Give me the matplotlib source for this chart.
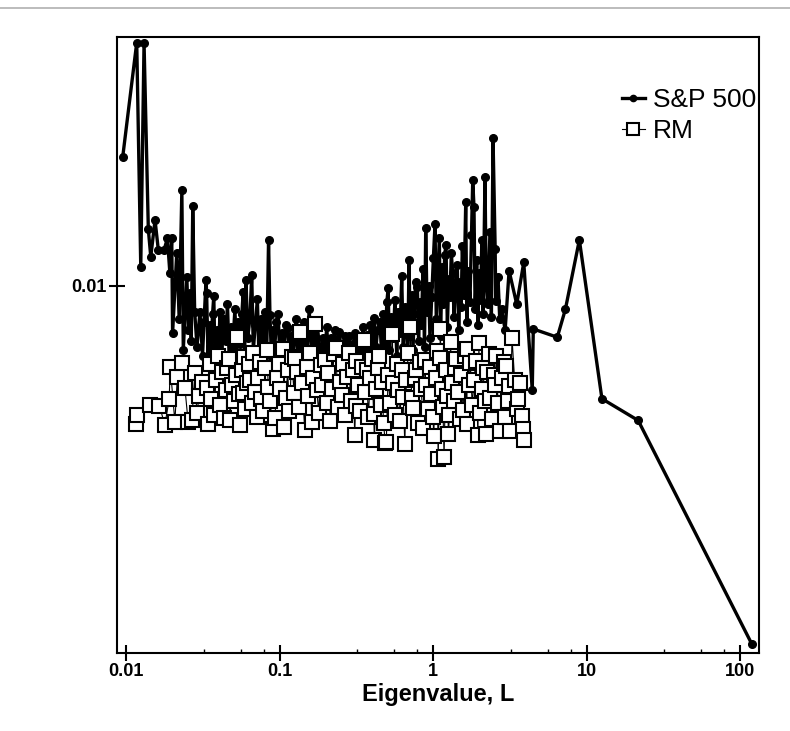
import numpy as np
import matplotlib
matplotlib.use("Agg")
import matplotlib.pyplot as plt
from matplotlib.lines import Line2D
from matplotlib.ticker import FixedLocator, NullLocator

plt.rcParams['font.family'] = ['Liberation Sans', 'DejaVu Sans']

# eigenvalues and inverse participation ratios (IPR in units of 1e-3)
sp_eig = [
    0.00952, 0.01174, 0.01247, 0.0131, 0.01397, 0.01449, 0.01545, 0.01623, 0.01768, 0.0186,
    0.0193, 0.01985, 0.0201, 0.0214, 0.0222, 0.0231, 0.0236, 0.0249, 0.0255, 0.0261,
    0.0266, 0.0272, 0.0280, 0.0290, 0.0303,
    0.0315, 0.0322, 0.0332, 0.0335, 0.0342, 0.0350, 0.0358, 0.0366, 0.0373, 0.0380,
    0.0390, 0.0400, 0.0410, 0.0420, 0.0432, 0.0445, 0.0458, 0.0470, 0.0482, 0.0495,
    0.0512, 0.0525, 0.0540, 0.0555, 0.0568, 0.0580, 0.0592, 0.0605, 0.0620, 0.0640,
    0.0659, 0.0675, 0.0695, 0.0717, 0.0735, 0.0755, 0.0775, 0.0800, 0.0825, 0.0848,
    0.0866, 0.0885, 0.0905, 0.0930, 0.0955, 0.0980, 0.1005, 0.1035, 0.1065, 0.1100,
    0.1130, 0.1160, 0.1195, 0.1235, 0.1280, 0.1320, 0.1360, 0.1400, 0.1450, 0.1500,
    0.1560, 0.1610, 0.1660, 0.1710, 0.1760, 0.1820, 0.1870, 0.1910, 0.1970, 0.2030,
    0.2090, 0.2150, 0.2220, 0.2290, 0.2360, 0.2440, 0.2510, 0.2590, 0.2670, 0.2750,
    0.2840, 0.2930, 0.3020,
    0.311, 0.320, 0.330, 0.340, 0.350, 0.360, 0.369, 0.379, 0.390, 0.402,
    0.414, 0.425, 0.435, 0.451, 0.462, 0.475, 0.488, 0.500, 0.510, 0.520,
    0.535, 0.550, 0.565, 0.580, 0.595, 0.610, 0.625, 0.640, 0.655, 0.670,
    0.684, 0.698, 0.710, 0.725, 0.740, 0.755, 0.770, 0.791, 0.805, 0.820,
    0.840, 0.860, 0.880, 0.896, 0.915, 0.935, 0.955, 0.980,
    1.005, 1.030, 1.050, 1.075, 1.099, 1.120, 1.145, 1.170, 1.190, 1.215,
    1.240, 1.265, 1.290, 1.315, 1.343, 1.370, 1.400, 1.439, 1.470, 1.500,
    1.525, 1.552, 1.590, 1.633, 1.660, 1.700, 1.740, 1.780, 1.814, 1.849,
    1.880, 1.926, 1.960, 2.000, 2.040, 2.080, 2.120, 2.180, 2.220, 2.270,
    2.350, 2.400, 2.460, 2.540, 2.560, 2.650, 2.720, 2.800, 2.950, 3.130,
    3.510, 3.900, 4.430, 4.500, 6.450, 7.280, 8.980, 12.60, 21.70, 119.0,
]
sp_ipr = [
    17.9, 29.9, 10.9, 29.9, 12.9, 11.4, 13.45, 11.76, 11.76, 12.39,
    10.6, 12.39, 8.08, 11.6, 8.6, 15.4, 7.5, 10.4, 8.2, 9.69,
    7.8, 14.3, 8.9, 7.6, 8.9,
    7.3, 8.5, 10.27, 9.70, 7.2, 8.4, 7.6, 8.8, 9.56, 7.1,
    8.2, 7.5, 8.9, 7.3, 8.6, 7.8, 9.2, 7.2, 8.3, 7.6,
    9.00, 7.4, 8.5, 7.7, 8.8, 9.75, 7.3, 10.27, 7.9, 8.6,
    10.5, 7.5, 8.4, 9.42, 7.2, 8.6, 7.7, 8.9, 7.4, 12.3,
    8.77, 7.3, 8.2, 7.6, 8.5, 8.80, 7.2, 8.1, 7.5, 8.4,
    8.29, 7.1, 8.0, 7.4, 8.60, 7.3, 8.2, 7.6, 8.5, 7.2,
    9.00, 7.5, 8.1, 7.3, 8.4, 7.6, 7.1, 7.92, 7.4, 8.3,
    7.2, 7.9, 7.5, 8.20, 7.3, 8.14, 7.6, 7.2, 8.0, 7.4,
    7.99, 7.3, 7.7,
    8.1, 7.2, 7.9, 7.4, 8.3, 7.1, 8.02, 7.5, 8.4, 7.3,
    8.67, 7.6, 8.2, 8.51, 7.4, 8.8, 7.7, 9.3, 9.90, 7.5,
    8.7, 7.9, 9.4, 7.3, 8.9, 8.1, 10.46, 7.6, 9.1, 8.3,
    7.4, 11.24, 8.0, 9.6, 7.5, 8.8, 10.2, 9.97, 7.8, 9.3,
    8.4, 10.8, 7.6, 12.99, 8.9, 10.0, 7.9, 9.5,
    11.32, 13.21, 8.6, 10.4, 12.39, 8.0, 10.9, 9.2, 11.5, 12.02,
    8.3, 10.3, 9.5, 11.6, 10.6, 8.7, 9.9, 10.99, 8.2, 10.2,
    9.1, 11.99, 9.6, 14.57, 8.5, 10.7, 9.3, 12.6, 16.1, 14.25,
    9.0, 11.24, 8.4, 10.6, 9.4, 12.3, 8.8, 16.3, 10.1, 9.2,
    12.77, 8.7, 19.46, 11.8, 9.36, 10.4, 8.6, 9.0, 8.2, 10.71,
    9.21, 11.12, 6.26, 8.24, 7.94, 9.00, 12.3, 6.02, 5.46, 2.00,
]

rm_eig = [
    0.0116, 0.0118, 0.0143, 0.0165, 0.0179, 0.0191, 0.0194, 0.0208, 0.0216, 0.0230,
    0.0242, 0.0254, 0.0268, 0.0281, 0.0289, 0.0300, 0.0311,
    0.0335, 0.0344, 0.0352, 0.0360, 0.0374, 0.0385, 0.0398, 0.0410, 0.0420, 0.0432,
    0.0445, 0.0458, 0.0471, 0.0475, 0.0490, 0.0505, 0.0518, 0.0531, 0.0542, 0.0553,
    0.0566, 0.0580, 0.0587, 0.0600, 0.0615, 0.0628, 0.0642, 0.0660, 0.0675, 0.0690,
    0.0710, 0.0727, 0.0745, 0.0760, 0.0780, 0.0800, 0.0825, 0.0845, 0.0870, 0.0900,
    0.0934, 0.0960, 0.0985,
    0.1010, 0.1058, 0.1070, 0.1100, 0.1130, 0.1160, 0.1200, 0.1243, 0.1262, 0.1295,
    0.1330, 0.1360, 0.1400, 0.1460, 0.1500, 0.1540, 0.1580, 0.1620, 0.1660, 0.1700,
    0.1750, 0.1800, 0.1850, 0.1900, 0.1980, 0.2030, 0.2080, 0.2140, 0.2200, 0.2260,
    0.2330, 0.2400, 0.2470, 0.2540, 0.2600, 0.2670, 0.2740, 0.2820, 0.2900, 0.3000,
    0.3090, 0.3130, 0.3170,
    0.326, 0.335, 0.344, 0.354, 0.360, 0.369, 0.379, 0.390, 0.400, 0.410,
    0.415, 0.425, 0.435, 0.444, 0.455, 0.465, 0.476, 0.488, 0.496, 0.510,
    0.525, 0.543, 0.551, 0.565, 0.580, 0.595, 0.610, 0.625, 0.639, 0.655,
    0.670, 0.690, 0.710, 0.725, 0.740, 0.760, 0.780, 0.800, 0.820, 0.840,
    0.860, 0.880, 0.900, 0.925, 0.950, 0.975,
    1.000, 1.010, 1.040, 1.060, 1.080, 1.110, 1.115, 1.140, 1.160, 1.180,
    1.210, 1.240, 1.260, 1.280, 1.300, 1.330, 1.360, 1.390, 1.420, 1.450,
    1.490, 1.530, 1.570, 1.610, 1.660, 1.670, 1.710, 1.750, 1.800, 1.850,
    1.900, 1.960, 1.990, 2.020, 2.070, 2.120, 2.170, 2.220, 2.240, 2.300,
    2.360, 2.420, 2.480, 2.540, 2.580, 2.650, 2.720, 2.800, 2.880, 2.960,
    3.000, 3.060, 3.120, 3.170, 3.270, 3.400, 3.500, 3.600, 3.700, 3.780,
    3.870, 3.930,
]
rm_ipr = [
    5.38, 5.60, 5.86, 5.83, 5.35, 6.01, 6.95, 5.43, 6.65, 7.07,
    6.31, 5.41, 5.47, 6.76, 5.64, 6.10, 6.50,
    6.31, 5.37, 7.05, 6.02, 5.60, 6.55, 7.30, 5.85, 6.80, 5.52,
    6.25, 6.90, 7.19, 5.47, 6.40, 5.95, 6.70, 7.96, 6.15, 5.35,
    6.85, 6.19, 7.26, 5.75, 6.45, 7.05, 6.55, 5.90, 7.40, 6.20,
    5.55, 6.60, 7.10, 6.00, 5.70, 6.90, 7.48, 6.35, 5.95, 5.25,
    5.51, 6.60, 7.05,
    6.30, 7.52, 5.31, 6.05, 6.85, 5.70, 7.25, 6.17, 7.19, 6.80,
    5.80, 8.14, 6.45, 5.23, 6.95, 6.10, 7.39, 5.43, 6.60, 8.43,
    6.25, 5.65, 7.00, 6.40, 7.17, 5.90, 6.75, 5.45, 6.30, 7.35,
    7.55, 5.80, 6.50, 6.13, 7.05, 5.60, 6.65, 7.40, 5.95, 6.85,
    5.12, 5.83, 7.12,
    6.40, 5.70, 6.95, 7.84, 6.20, 6.85, 5.55, 6.60, 7.20, 5.63,
    5.00, 6.30, 6.90, 7.30, 5.85, 6.50, 5.40, 4.94, 4.96, 6.70,
    5.90, 8.04, 6.45, 5.60, 7.05, 6.25, 5.45, 6.85, 6.08, 4.91,
    6.55, 7.40, 8.32, 6.05, 5.78, 6.60, 6.85, 5.40, 7.10, 6.30,
    5.28, 7.17, 6.40, 5.75, 6.95, 6.15,
    5.55, 5.09, 6.60, 7.45, 4.60, 7.22, 8.23, 6.30, 5.80, 4.63,
    6.85, 6.10, 5.13, 5.60, 7.77, 6.45, 5.95, 6.90, 7.19, 6.20,
    5.50, 6.70, 5.73, 7.30, 5.37, 7.53, 6.40, 7.06, 5.85, 6.55,
    7.15, 5.11, 7.74, 5.64, 6.30, 6.90, 5.95, 5.13, 6.80, 7.35,
    6.05, 5.50, 6.70, 6.41, 7.31, 5.90, 5.21, 6.60, 7.10, 5.55,
    6.98, 5.95, 6.37, 5.21, 7.92, 6.55, 5.75, 6.02, 6.45, 5.58,
    5.25, 5.00,
]

x_ticks = [0.01, 0.1, 1, 10, 100]
x_tick_labels = ['0.01', '0.1', '1', '10', '100']
y_ticks = [0.01]
y_tick_labels = ['0.01']

fig = plt.figure(figsize=(7.9, 7.31), dpi=100)
ax = fig.add_axes([0.1477, 0.1071, 0.8131, 0.8427])

ax.plot(sp_eig, np.array(sp_ipr) * 1e-3, color='black', lw=2.4, marker='o',
        markersize=5.5, markerfacecolor='black', markeredgecolor='black',
        label='S&P 500', zorder=2)
ax.plot(rm_eig, np.array(rm_ipr) * 1e-3, color='black', lw=0.8, marker='s',
        markersize=10, markerfacecolor='white', markeredgecolor='black',
        markeredgewidth=1.5, label='RM', zorder=3)

ax.set_xscale('log')
ax.set_yscale('log')
ax.set_xlim(0.00869, 133)
ax.set_ylim(0.00192, 0.0307)

ax.xaxis.set_major_locator(FixedLocator(x_ticks))
ax.set_xticklabels(x_tick_labels)
minor = [m * 10.0 ** k for k in range(-3, 3) for m in (3.2, 5.6, 7.9)]
ax.xaxis.set_minor_locator(FixedLocator(minor))
ax.set_yticks(y_ticks)
ax.set_yticklabels(y_tick_labels)
ax.yaxis.set_minor_locator(NullLocator())

for s in ax.spines.values():
    s.set_linewidth(1.5)
ax.tick_params(which='major', direction='inout', length=11, width=1.5,
               labelsize=13, pad=2, top=False, right=False)
ax.tick_params(which='minor', direction='in', length=3, width=1, top=False, right=False)
for lab in ax.get_xticklabels() + ax.get_yticklabels():
    lab.set_fontweight('bold')

ax.set_xlabel('Eigenvalue, L', fontsize=17, fontweight='bold', labelpad=2)

leg = ax.legend(loc='upper left', bbox_to_anchor=(0.787, 0.917), frameon=False,
                fontsize=19, handlelength=0.85, handletextpad=0.3,
                labelspacing=0.27, borderpad=0, borderaxespad=0)
leg.legend_handles[0].set_markersize(4.5)
leg.legend_handles[0].set_linewidth(2.4)
leg.legend_handles[1].set_markersize(8.5)

# grey frame line left over from the page crop
fig.add_artist(Line2D([0, 1], [1 - 8 / 731, 1 - 8 / 731], transform=fig.transFigure,
                      color='#b0b0b0', lw=1.2))

fig.savefig('out.png', dpi=100)
